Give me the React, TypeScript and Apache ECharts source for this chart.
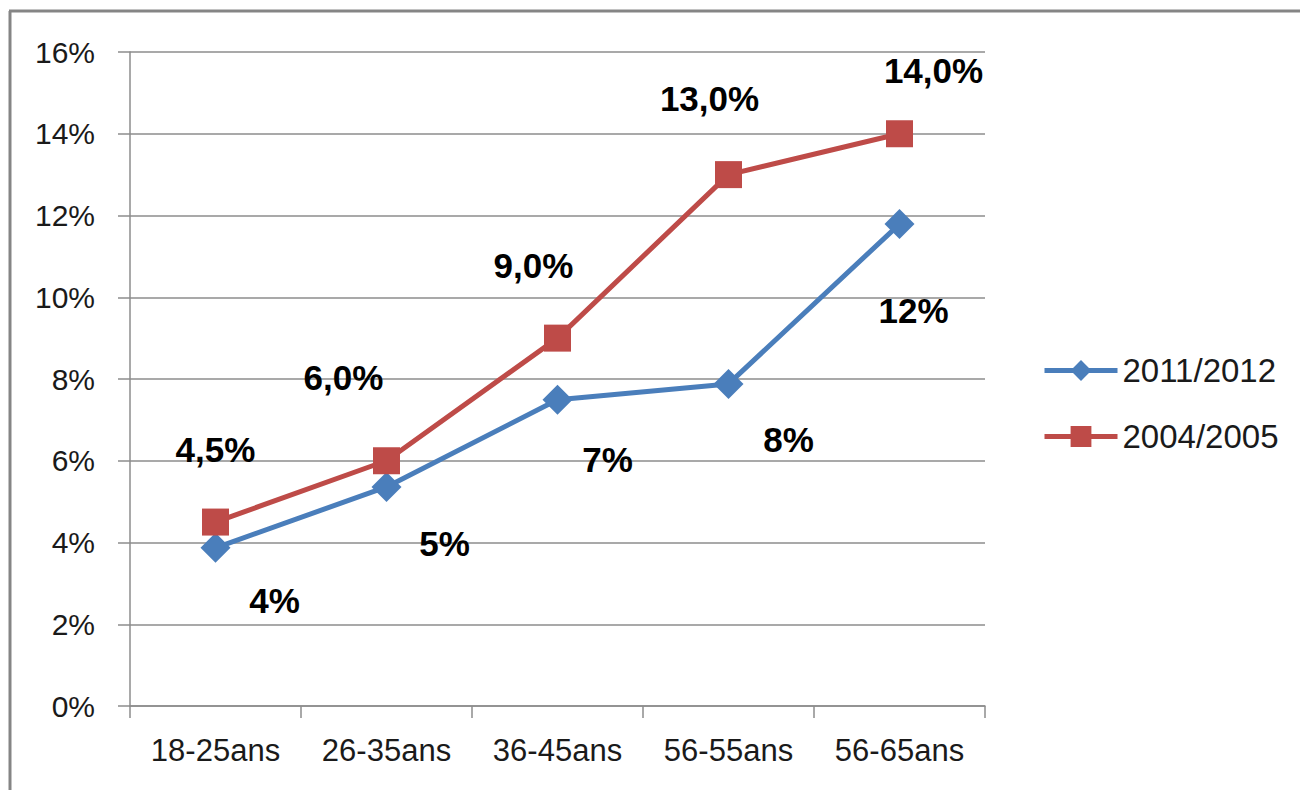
import React, { useEffect, useRef } from "react";
import * as echarts from "echarts";

const categories = ["18-25ans", "26-35ans", "36-45ans", "56-55ans", "56-65ans"];
const seriesNames = ["2011/2012", "2004/2005"];
const values2011 = [3.87, 5.36, 7.49, 7.88, 11.79];
const values2004 = [4.5, 6.0, 9.0, 13.0, 14.0];
const yTicks = [0, 2, 4, 6, 8, 10, 12, 14, 16];

// label offsets relative to marker (px)
const labelOffsets2011 = [[59, 53], [58, 57], [50, 60], [60, 56], [14, 86]];
const labelOffsets2004 = [[0, -73], [-43, -83], [-24, -73], [-19, -76], [34, -63]];

const FONT = "Liberation Sans";
const BLUE = "#4A7EBB";
const RED = "#BE4B48";
const GRID = "#8C8C8C";

export default function App() {
  const ref = useRef<HTMLDivElement>(null);
  useEffect(() => {
    if (!ref.current) return;
    const chart = echarts.init(ref.current, undefined, { renderer: "svg" });
    const mk = (vals: number[], offs: number[][], fmt: (v: number) => string) =>
      vals.map((v, i) => ({
        value: v,
        label: { offset: offs[i], formatter: () => fmt(v) },
      }));
    const labelStyle = {
      show: true,
      position: "inside",
      fontFamily: FONT,
      fontSize: 35,
      fontWeight: "bold",
      color: "#000",
    };
    chart.setOption({
      animation: false,
      backgroundColor: "#ffffff",
      textStyle: { fontFamily: FONT },
      grid: { left: 130, right: 315, top: 52, bottom: 84, containLabel: false },
      legend: {
        orient: "vertical",
        left: 1037,
        top: 349,
        itemWidth: 73,
        itemHeight: 26,
        itemGap: 33,
        data: seriesNames,
        lineStyle: { width: 5 },
        textStyle: { fontFamily: FONT, fontSize: 33, color: "#1a1a1a" },
      },
      graphic: [
        { type: "line", shape: { x1: 10, y1: 11, x2: 10, y2: 790 }, style: { stroke: "#858585", lineWidth: 3 } },
        { type: "line", shape: { x1: 9, y1: 11, x2: 1300, y2: 11 }, style: { stroke: "#858585", lineWidth: 3 } },
      ],
      xAxis: {
        type: "category",
        data: categories,
        boundaryGap: true,
        axisLine: { lineStyle: { color: GRID, width: 1.5 } },
        axisTick: { show: true, interval: 0, length: 12, inside: false, lineStyle: { color: GRID, width: 1.5 } },
        axisLabel: { interval: 0, hideOverlap: false, fontFamily: FONT, fontSize: 31, color: "#1a1a1a", margin: 29 },
        splitLine: { show: false },
      },
      yAxis: {
        type: "value",
        min: 0,
        max: 16,
        interval: 2,
        axisLine: { show: true, lineStyle: { color: GRID, width: 1.5 } },
        axisTick: { show: true, length: 12, lineStyle: { color: GRID, width: 1.5 } },
        axisLabel: {
          fontFamily: FONT,
          fontSize: 30,
          color: "#1a1a1a",
          margin: 35,
          formatter: (v: number) => (yTicks.includes(v) ? v + "%" : ""),
        },
        splitLine: { show: true, lineStyle: { color: GRID, width: 1.5 } },
      },
      series: [
        {
          name: seriesNames[0],
          type: "line",
          data: mk(values2011, labelOffsets2011, (v) => Math.round(v) + "%"),
          symbol: "diamond",
          symbolSize: 30,
          lineStyle: { color: BLUE, width: 5 },
          itemStyle: { color: BLUE },
          label: labelStyle,
          z: 3,
        },
        {
          name: seriesNames[1],
          type: "line",
          data: mk(values2004, labelOffsets2004, (v) => v.toFixed(1).replace(".", ",") + "%"),
          symbol: "rect",
          symbolSize: 27,
          lineStyle: { color: RED, width: 5 },
          itemStyle: { color: RED },
          label: labelStyle,
          z: 4,
        },
      ],
    });
    return () => chart.dispose();
  }, []);
  return (
    <div
      ref={ref}
      style={{ position: "absolute", left: 0, top: 0, width: 1300, height: 790, background: "#fff" }}
    />
  );
}
